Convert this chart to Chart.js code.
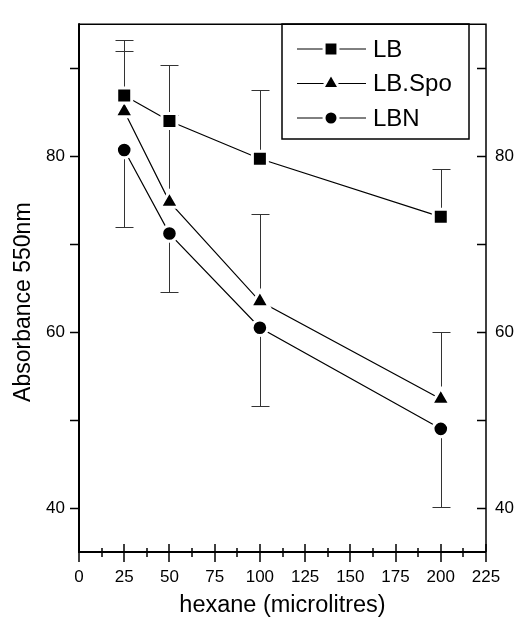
<!DOCTYPE html>
<html>
<head>
<meta charset="utf-8">
<script src="https://cdn.jsdelivr.net/npm/chart.js@4.4.0/dist/chart.umd.min.js"></script>
<style>
body { margin: 0; background: #fff; }
canvas { display: block; }
</style>
</head>
<body>
<canvas id="chart" width="517" height="620"></canvas>
<script>
var hexane = [25, 50, 100, 200];
var lbValues = [86.9, 84.0, 79.7, 73.1];
var lbUpper = [93.2, 90.4, 87.5, 78.5];
var lbSpoValues = [85.1, 74.8, 63.5, 52.4];
var lbSpoUpper = [92.0, 84.7, 73.4, 60.0];
var lbnValues = [80.7, 71.2, 60.5, 49.0];
var lbnLower = [72.0, 64.6, 51.6, 40.1];

var xTickValues = [0, 25, 50, 75, 100, 125, 150, 175, 200, 225];
var xMinorTicks = [12.5, 37.5, 62.5, 87.5, 112.5, 137.5, 162.5, 187.5, 212.5];
var yTickValues = [40, 60, 80];
var yMinorTicks = [50, 70, 90];
var xTitle = 'hexane (microlitres)';
var yTitle = 'Absorbance 550nm';

var fontFamily = "'Liberation Sans', Arial, sans-serif";
Chart.defaults.font.family = fontFamily;
Chart.defaults.color = '#000';

function makeSet(label, values, errTo, shape, radius) {
    return {
        label: label,
        data: values.map(function (v, i) {
            return {x: hexane[i], y: v};
        }),
        errorTo: errTo,
        borderColor: '#000',
        borderWidth: 1.2,
        pointStyle: shape,
        pointRadius: radius,
        pointBackgroundColor: '#000',
        pointBorderColor: '#fff',
        pointBorderWidth: 3,
        tension: 0,
        fill: false
    };
}

function setTicks(values) {
    return function (scale) {
        scale.ticks = values.map(function (v) {
            return {value: v};
        });
    };
}

// error bars go under the markers, axes and legend on top
var frame = {
    id: 'frame',
    beforeDatasetsDraw: function (chart) {
        var ctx = chart.ctx;
        var xs = chart.scales.x, ys = chart.scales.y;
        ctx.save();
        ctx.strokeStyle = '#333';
        ctx.lineWidth = 1;
        chart.data.datasets.forEach(function (ds) {
            ds.data.forEach(function (p, i) {
                var px = Math.round(xs.getPixelForValue(p.x)) + 0.5;
                var py = ys.getPixelForValue(p.y);
                var pe = Math.round(ys.getPixelForValue(ds.errorTo[i])) + 0.5;
                ctx.beginPath();
                ctx.moveTo(px, py);
                ctx.lineTo(px, pe);
                ctx.moveTo(px - 9, pe);
                ctx.lineTo(px + 9, pe);
                ctx.stroke();
            });
        });
        ctx.restore();
    },
    afterDraw: function (chart) {
        var ctx = chart.ctx;
        var a = chart.chartArea;
        var xs = chart.scales.x, ys = chart.scales.y;
        ctx.save();
        ctx.strokeStyle = '#000';

        ctx.lineWidth = 1.5;
        ctx.beginPath();
        ctx.moveTo(a.left, a.top);
        ctx.lineTo(a.right, a.top);
        ctx.lineTo(a.right, a.bottom);
        ctx.stroke();

        ctx.lineWidth = 2;
        ctx.beginPath();
        ctx.moveTo(a.left, a.top - 1);
        ctx.lineTo(a.left, a.bottom);
        ctx.lineTo(a.right, a.bottom);
        ctx.stroke();

        ctx.lineWidth = 1.5;
        ctx.beginPath();
        yTickValues.concat(yMinorTicks).forEach(function (v) {
            var py = Math.round(ys.getPixelForValue(v)) + 0.5;
            ctx.moveTo(a.left - 9, py);
            ctx.lineTo(a.left, py);
            ctx.moveTo(a.right - 9, py);
            ctx.lineTo(a.right, py);
        });
        xTickValues.forEach(function (v) {
            var px = Math.round(xs.getPixelForValue(v));
            ctx.moveTo(px, a.bottom - 8);
            ctx.lineTo(px, a.bottom + 10);
        });
        xMinorTicks.forEach(function (v) {
            var px = Math.round(xs.getPixelForValue(v));
            ctx.moveTo(px, a.bottom - 4);
            ctx.lineTo(px, a.bottom + 5);
        });
        ctx.stroke();

        // y title, sits a bit below the middle of the axis
        ctx.save();
        ctx.translate(24, ys.getPixelForValue(63.4));
        ctx.rotate(-Math.PI / 2);
        ctx.font = '23px ' + fontFamily;
        ctx.fillStyle = '#000';
        ctx.textAlign = 'center';
        ctx.textBaseline = 'middle';
        ctx.fillText(yTitle, 0, 0);
        ctx.restore();

        // legend box
        var bx = 282, by = 24, bw = 187, bh = 115;
        ctx.lineWidth = 1.5;
        ctx.strokeStyle = '#000';
        ctx.strokeRect(bx, by, bw, bh);
        ctx.font = '24px ' + fontFamily;
        ctx.textAlign = 'left';
        ctx.textBaseline = 'middle';
        chart.data.datasets.forEach(function (ds, i) {
            var ry = by + 25 + i * 34.5;
            ctx.lineWidth = 1;
            ctx.strokeStyle = '#000';
            ctx.beginPath();
            ctx.moveTo(297, ry);
            ctx.lineTo(366, ry);
            ctx.stroke();
            ctx.fillStyle = '#000';
            ctx.strokeStyle = '#fff';
            ctx.lineWidth = 3;
            Chart.helpers.drawPoint(ctx, {
                pointStyle: ds.pointStyle,
                radius: ds.pointRadius - 0.8,
                rotation: 0,
                borderWidth: 3
            }, 331, ry);
            ctx.fillStyle = '#000';
            ctx.fillText(ds.label, 373, ry + 1);
        });
        ctx.restore();
    }
};

var ctx = document.getElementById('chart').getContext('2d');
var myChart = new Chart(ctx, {
    type: 'line',
    data: {
        datasets: [
            makeSet('LB', lbValues, lbUpper, 'rect', 10.6),
            makeSet('LB.Spo', lbSpoValues, lbSpoUpper, 'triangle', 10.7),
            makeSet('LBN', lbnValues, lbnLower, 'circle', 7.8)
        ]
    },
    options: {
        responsive: false,
        animation: false,
        events: [],
        layout: {padding: {top: 13, left: 0, right: 0, bottom: 0}},
        plugins: {legend: {display: false}, tooltip: {enabled: false}},
        scales: {
            x: {
                type: 'linear',
                position: 'bottom',
                min: 0,
                max: 225,
                afterBuildTicks: setTicks(xTickValues),
                afterFit: function (scale) { scale.height = 68; },
                grid: {display: false, drawTicks: false},
                border: {display: false},
                ticks: {font: {size: 17}, padding: 15, maxRotation: 0, autoSkip: false},
                title: {display: true, text: xTitle, font: {size: 23.5}, padding: {top: 0, bottom: 0}}
            },
            y: {
                type: 'linear',
                position: 'left',
                min: 35,
                max: 95,
                afterBuildTicks: setTicks(yTickValues),
                afterFit: function (scale) { scale.width = 79; },
                grid: {display: false, drawTicks: false},
                border: {display: false},
                ticks: {font: {size: 17}, padding: 14}
            },
            y2: {
                type: 'linear',
                position: 'right',
                min: 35,
                max: 95,
                afterBuildTicks: setTicks(yTickValues),
                afterFit: function (scale) { scale.width = 31; },
                grid: {display: false, drawTicks: false},
                border: {display: false},
                ticks: {font: {size: 17}, padding: 9}
            }
        }
    },
    plugins: [frame]
});
</script>
</body>
</html>
